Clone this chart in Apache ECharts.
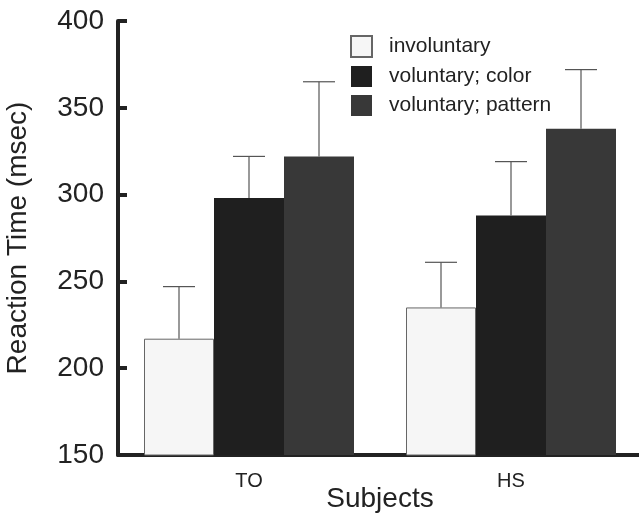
<!DOCTYPE html>
<html>
<head>
<meta charset="utf-8">
<script src="https://cdn.jsdelivr.net/npm/echarts@6/dist/echarts.min.js"></script>
<style>html,body{margin:0;padding:0;background:#fff}#c{width:639px;height:516px}</style>
</head>
<body>
<div id="c"></div>
<script>
var categories = ['TO', 'HS'];
var seriesNames = ['involuntary', 'voluntary; color', 'voluntary; pattern'];
var involuntary = [217, 235];
var voluntaryColor = [298, 288];
var voluntaryPattern = [322, 338];
var errInvoluntary = [247, 261];
var errColor = [322, 319];
var errPattern = [365, 372];
var yTicks = [150, 200, 250, 300, 350, 400];

var chart = echarts.init(document.getElementById('c'));
var font = 'Liberation Sans, Arial, Helvetica, sans-serif';
var BAR_W = 70;

function errSeries(means, tops, idx) {
  var data = means.map(function (m, i) { return [i, m, tops[i]]; });
  return {
    type: 'custom',
    silent: true,
    z: 5,
    data: data,
    renderItem: function (params, api) {
      var c = api.value(0);
      var p0 = api.coord([c, api.value(1)]);
      var p1 = api.coord([c, api.value(2)]);
      var x = p0[0] + (idx - 1) * BAR_W;
      var capHalf = 16;
      var style = { stroke: '#555', lineWidth: 1.2 };
      return {
        type: 'group',
        children: [
          { type: 'line', shape: { x1: x, y1: p0[1], x2: x, y2: p1[1] }, style: style },
          { type: 'line', shape: { x1: x - capHalf, y1: p1[1], x2: x + capHalf, y2: p1[1] }, style: style }
        ]
      };
    }
  };
}

var option = {
  animation: false,
  backgroundColor: '#fff',
  textStyle: { fontFamily: font },
  grid: { left: 118, top: 21, width: 524, height: 434, containLabel: false, outerBoundsMode: 'none' },
  legend: {
    data: seriesNames.map(function (n) { return { name: n, icon: 'rect' }; }),
    orient: 'vertical',
    left: 345,
    top: 30,
    itemWidth: 21,
    itemHeight: 21,
    itemGap: 8,
    textStyle: { fontSize: 21, lineHeight: 21, color: '#222', fontFamily: font, padding: [0, 0, 0, 12] },
    selectedMode: false
  },
  xAxis: {
    type: 'category',
    data: categories,
    name: 'Subjects',
    nameLocation: 'middle',
    nameGap: 30,
    nameMoveOverlap: false,
    nameTextStyle: { fontSize: 28, color: '#222', fontFamily: font },
    axisLine: { lineStyle: { color: '#222', width: 4 } },
    axisTick: { show: false },
    axisLabel: { fontSize: 20, color: '#222', margin: 16, fontFamily: font },
    splitLine: { show: false }
  },
  yAxis: {
    type: 'value',
    min: 150,
    max: 400,
    interval: 50,
    name: 'Reaction Time (msec)',
    nameLocation: 'middle',
    nameGap: 86,
    nameMoveOverlap: false,
    nameTextStyle: { fontSize: 28, color: '#222', fontFamily: font },
    axisLine: { show: true, lineStyle: { color: '#222', width: 4 } },
    axisTick: { show: true, inside: true, length: 9, lineStyle: { color: '#222', width: 4 } },
    axisLabel: {
      fontSize: 28, color: '#222', margin: 14, fontFamily: font,
      formatter: function (v) { return yTicks.indexOf(v) >= 0 ? String(v) : ''; }
    },
    splitLine: { show: false }
  },
  series: [
    {
      name: seriesNames[0], type: 'bar', data: involuntary, barWidth: BAR_W, barGap: '0%',
      itemStyle: { color: '#f6f6f6', borderColor: '#666', borderWidth: 1 }
    },
    {
      name: seriesNames[1], type: 'bar', data: voluntaryColor, barWidth: BAR_W, barGap: '0%',
      itemStyle: { color: '#1f1f1f' }
    },
    {
      name: seriesNames[2], type: 'bar', data: voluntaryPattern, barWidth: BAR_W, barGap: '0%',
      itemStyle: { color: '#383838' }
    },
    errSeries(involuntary, errInvoluntary, 0),
    errSeries(voluntaryColor, errColor, 1),
    errSeries(voluntaryPattern, errPattern, 2)
  ]
};
chart.setOption(option);
</script>
</body>
</html>
